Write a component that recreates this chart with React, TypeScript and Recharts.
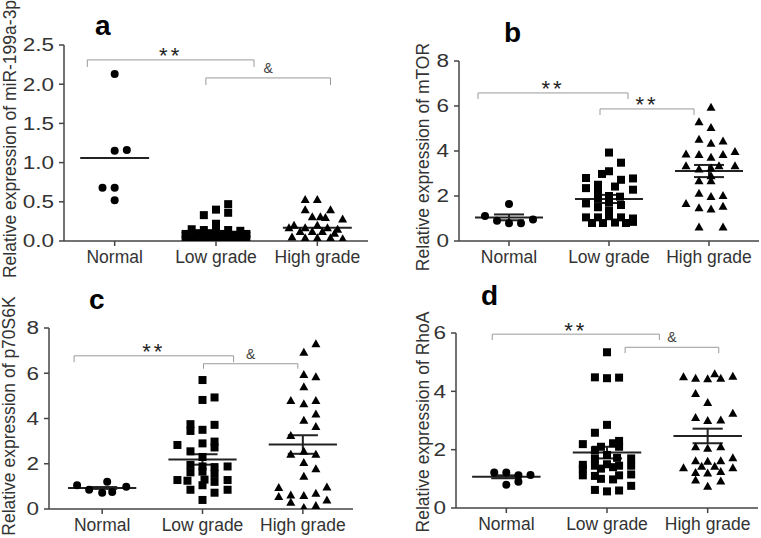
import React from "react";
import { ScatterChart, Scatter, XAxis, YAxis, ReferenceLine } from "recharts";

const GROUPS = ["Normal", "Low grade", "High grade"];
const FONT = "'Liberation Sans', Arial, sans-serif";

// each point: [x jitter around its group, value]
// a: miR-199a-3p
const aNormal = [[0, 2.13], [0, 1.15], [0.12, 1.16], [-0.12, 0.68], [0, 0.68], [0, 0.52]];
const aLow = [
  [0.12, 0.47], [0, 0.4], [0.12, 0.36], [-0.12, 0.33], [0, 0.22],
  [-0.24, 0.15], [-0.12, 0.14], [0, 0.16], [0.12, 0.14], [0.24, 0.13],
  [-0.3, 0.09], [-0.18, 0.1], [-0.06, 0.1], [0.06, 0.09], [0.18, 0.08], [0.3, 0.09],
  [-0.24, 0.05], [-0.12, 0.05], [0, 0.06], [0.12, 0.04], [0.24, 0.05],
  [-0.3, 0.02], [-0.18, 0.02], [-0.06, 0.02], [0.06, 0.02], [0.18, 0.02], [0.3, 0.03],
  [-0.12, 0.0], [0, 0.0], [0.12, 0.01],
];
const aHigh = [
  [-0.12, 0.53], [0, 0.53], [-0.12, 0.4], [0.13, 0.4], [-0.05, 0.31], [0.03, 0.31],
  [0.08, 0.3], [0.25, 0.28], [-0.23, 0.2], [0, 0.2], [-0.28, 0.17], [-0.12, 0.17],
  [0.1, 0.17], [0.2, 0.15], [-0.17, 0.12], [-0.05, 0.12], [0.05, 0.12], [0.17, 0.1],
  [-0.25, 0.05], [-0.12, 0.04], [0, 0.04], [0.13, 0.04], [0.25, 0.03], [0, 0.0],
];
const aMean = [1.06, 0.11, 0.17];
const aSem = [0, 0, 0];
const aTicks = [0, 0.5, 1, 1.5, 2, 2.5];
const aBrackets = [
  { x1: 0.73, x2: 2.375, y: 2.31, drop: 0.09, label: "**" },
  { x1: 1.9, x2: 3.13, y: 2.08, drop: 0.09, label: "&" },
];

// b: mTOR
const bNormal = [[0, 1.64], [-0.24, 1.11], [-0.12, 0.9], [0, 0.79], [0.12, 0.79], [0.24, 0.96]];
const bLow = [
  [0, 3.93], [0.12, 3.48], [0, 3.1], [-0.07, 2.98], [-0.23, 2.8], [0.12, 2.72],
  [0.24, 2.78], [-0.11, 2.5], [0.06, 2.42], [-0.23, 2.35], [0.24, 2.28], [-0.11, 2.25],
  [0, 2.0], [0.11, 1.97], [-0.11, 1.9], [-0.23, 1.67], [0, 1.72], [0.12, 1.6],
  [-0.11, 1.5], [0, 1.36], [-0.23, 1.05], [-0.11, 1.05], [0, 1.1], [0.12, 1.05],
  [0.24, 1.0], [-0.17, 0.8], [-0.06, 0.8], [0.06, 0.82], [0.17, 0.8], [0.24, 0.85],
];
const bHigh = [
  [0.02, 5.95], [-0.1, 5.3], [0.02, 5.05], [-0.1, 4.52], [0.02, 4.34], [0.14, 4.44],
  [-0.23, 3.87], [-0.1, 3.85], [0.02, 3.72], [0.14, 3.85], [0.26, 3.98],
  [-0.23, 3.35], [-0.1, 3.2], [0.02, 3.25], [0.1, 3.35], [0.26, 3.35],
  [-0.1, 2.68], [0.02, 2.9], [0.02, 2.68],
  [-0.1, 2.12], [0.02, 1.98], [0.14, 2.02],
  [-0.23, 1.67], [-0.1, 1.48], [0.02, 1.42], [0.14, 1.55],
  [-0.1, 0.62], [0.14, 0.62],
];
const bMean = [1.05, 1.87, 3.11];
const bSem = [0.13, 0.18, 0.27];
const bTicks = [0, 2, 4, 6, 8];
const bBrackets = [
  { x1: 0.69, x2: 2.19, y: 6.58, drop: 0.27, label: "**" },
  { x1: 1.91, x2: 2.85, y: 5.87, drop: 0.27, label: "**" },
];

// c: p70S6K
const cNormal = [[-0.25, 1.05], [-0.13, 0.85], [0, 0.72], [0.05, 1.2], [0.1, 0.75], [0.24, 0.98]];
const cLow = [
  [0, 5.7], [0, 4.82], [0.12, 4.93], [-0.12, 3.75], [-0.12, 3.45], [0, 3.5], [0.12, 3.72],
  [-0.25, 2.83], [0, 2.9], [0.12, 2.98], [0.12, 2.72], [-0.12, 2.55], [0, 2.3],
  [-0.12, 1.95], [0, 1.88], [0.12, 1.85], [0.25, 1.88],
  [-0.12, 1.62], [0, 1.65], [0.12, 1.55],
  [-0.25, 1.28], [-0.15, 1.25], [0.02, 1.3], [0.12, 1.2], [0.25, 1.28],
  [-0.12, 0.85], [0, 1.05], [0.12, 0.72], [0.25, 0.85], [0, 0.4],
];
const cHigh = [
  [0.13, 7.3], [0.01, 6.93], [0.01, 5.95], [0.13, 5.85], [0.01, 5.4], [-0.12, 4.8],
  [0.01, 4.65], [0.13, 4.8], [0.13, 4.2], [0.01, 3.92], [0.13, 3.65], [-0.12, 3.25],
  [0.01, 2.55], [-0.12, 2.42], [0.13, 2.42], [0.01, 2.05], [0.13, 1.78], [0.01, 1.45],
  [-0.24, 0.95], [0.24, 0.97], [-0.24, 0.55], [-0.12, 0.62], [0.01, 0.6], [0.13, 0.7],
  [0.24, 0.4], [-0.12, 0.3], [0.13, 0.15], [0.01, 0.07],
];
const cMean = [0.93, 2.19, 2.85];
const cSem = [0.04, 0.23, 0.41];
const cTicks = [0, 2, 4, 6, 8];
const cBrackets = [
  { x1: 0.72, x2: 2.31, y: 6.77, drop: 0.28, label: "**" },
  { x1: 2.01, x2: 2.95, y: 6.42, drop: 0.22, label: "&" },
];

// d: RhoA
const dNormal = [[-0.12, 1.22], [0, 1.22], [0.12, 1.12], [0.24, 1.13], [0, 0.8], [0.12, 0.9]];
const dLow = [
  [0, 5.34], [-0.12, 4.48], [0, 4.45], [0.12, 4.47], [0, 2.85], [-0.12, 2.58],
  [-0.24, 2.19], [-0.06, 2.1], [0.06, 2.22], [0.12, 2.3], [0.12, 2.1],
  [-0.12, 1.98], [0, 1.82], [-0.12, 1.7], [0.1, 1.72], [0.24, 1.7],
  [-0.24, 1.48], [-0.12, 1.45], [0, 1.5], [0.12, 1.45], [0.24, 1.45],
  [-0.24, 1.35], [-0.06, 1.35], [0.06, 1.4],
  [-0.24, 1.12], [-0.12, 1.1], [0.12, 1.12], [0.24, 1.15],
  [-0.06, 1.0], [0.06, 0.98], [0.24, 0.76],
  [-0.12, 0.62], [0, 0.57], [0.12, 0.6],
];
const dHigh = [
  [-0.24, 4.5], [-0.12, 4.45], [0, 4.43], [0.07, 4.6], [0.13, 4.45], [0.25, 4.52],
  [-0.12, 3.93], [0, 3.62],
  [-0.12, 3.1], [0, 3.0], [0.13, 3.02], [0.25, 3.25],
  [-0.12, 2.1], [0, 2.05], [0.13, 2.1],
  [-0.12, 1.62], [0, 1.6], [0.13, 1.62], [0.25, 1.72],
  [-0.24, 1.38], [-0.06, 1.43], [0.07, 1.43], [0.25, 1.38],
  [-0.12, 1.22], [0, 1.2], [0.13, 1.25],
  [-0.12, 0.96], [0.13, 0.93], [0, 0.75],
];
const dMean = [1.07, 1.9, 2.47];
const dSem = [0.05, 0.2, 0.25];
const dTicks = [0, 2, 4, 6];
const dBrackets = [
  { x1: 0.86, x2: 2.52, y: 5.96, drop: 0.2, label: "**" },
  { x1: 2.18, x2: 3.11, y: 5.51, drop: 0.2, label: "&" },
];

const Dot = (p: any) => <circle cx={p.cx} cy={p.cy} r={4} fill="#000" />;
const Sq = (p: any) => <rect x={p.cx - 4} y={p.cy - 4} width={8} height={8} fill="#000" />;
const Tri = (p: any) => (
  <polygon
    points={`${p.cx},${p.cy - 4.5} ${p.cx + 4.5},${p.cy + 3.5} ${p.cx - 4.5},${p.cy + 3.5}`}
    fill="#000"
  />
);
const SHAPES = [Dot, Sq, Tri];

const YTick = ({ x, y, payload, dec }: any) => (
  <text
    x={x}
    y={y}
    dy="0.36em"
    textAnchor="end"
    fontSize={18}
    fill="#333"
    fontFamily={FONT}
    transform={`translate(${x} 0) scale(1.25 1) translate(${-x} 0)`}
  >
    {Number(payload.value).toFixed(dec)}
  </text>
);

function Panel({ left, top, width, height, margin, yWidth, xHeight, xMin, yMax, ticks, dec, groups, means, sems, brackets }: any) {
  const data = groups.map((pts: number[][], gi: number) => pts.map(([dx, v]) => ({ x: gi + 1 + dx, y: v })));
  const line = { stroke: "#222", strokeWidth: 2, ifOverflow: "visible" as const };
  const brk = { stroke: "#999", strokeWidth: 1, ifOverflow: "visible" as const };
  return (
    <div style={{ position: "absolute", left, top }}>
      <ScatterChart width={width} height={height} margin={margin}>
        <XAxis
          type="number"
          dataKey="x"
          domain={[xMin, 3.5]}
          allowDataOverflow
          ticks={[1, 2, 3]}
          interval={0}
          tickFormatter={(v) => GROUPS[v - 1]}
          height={xHeight}
          stroke="#444"
          strokeWidth={1.5}
          tickSize={5}
          tickMargin={5}
          tick={{ fontSize: 17.5, fill: "#333", fontFamily: FONT }}
        />
        <YAxis
          type="number"
          dataKey="y"
          domain={[0, yMax]}
          allowDataOverflow
          ticks={ticks}
          interval={0}
          width={yWidth}
          stroke="#444"
          strokeWidth={1.5}
          tickSize={5}
          tickMargin={5}
          tick={(p: any) => <YTick {...p} dec={dec} />}
        />
        {data.map((d: any, i: number) => (
          <Scatter key={i} data={d} shape={SHAPES[i]} isAnimationActive={false} />
        ))}
        {means.map((m: number, i: number) => (
          <ReferenceLine key={`m${i}`} segment={[{ x: i + 0.66, y: m }, { x: i + 1.34, y: m }]} {...line} />
        ))}
        {sems.map((s: number, i: number) =>
          s > 0
            ? [
                <ReferenceLine key={`v${i}`} segment={[{ x: i + 1, y: means[i] - s }, { x: i + 1, y: means[i] + s }]} {...line} />,
                <ReferenceLine key={`t${i}`} segment={[{ x: i + 0.85, y: means[i] + s }, { x: i + 1.15, y: means[i] + s }]} {...line} />,
                <ReferenceLine key={`b${i}`} segment={[{ x: i + 0.85, y: means[i] - s }, { x: i + 1.15, y: means[i] - s }]} {...line} />,
              ]
            : null
        )}
        {brackets.map((b: any, i: number) => [
          <ReferenceLine
            key={`h${i}`}
            segment={[{ x: b.x1, y: b.y }, { x: b.x2, y: b.y }]}
            {...brk}
            label={{
              value: b.label,
              position: "top",
              offset: b.label === "&" ? 5 : -3.5,
              fontSize: b.label === "&" ? 14 : 22,
              letterSpacing: b.label === "&" ? 0 : 3,
              fill: b.label === "&" ? "#444" : "#222",
              fontFamily: FONT,
            }}
          />,
          <ReferenceLine key={`l${i}`} segment={[{ x: b.x1, y: b.y }, { x: b.x1, y: b.y - b.drop }]} {...brk} />,
          <ReferenceLine key={`r${i}`} segment={[{ x: b.x2, y: b.y }, { x: b.x2, y: b.y - b.drop }]} {...brk} />,
        ])}
      </ScatterChart>
    </div>
  );
}

export default function App() {
  const lbl = { fontSize: 17.5, fill: "#333", fontFamily: FONT, textAnchor: "middle" as const, dominantBaseline: "central" as const };
  const letter = { fontSize: 28, fontWeight: 700, fill: "#000", fontFamily: FONT };
  return (
    <div style={{ position: "absolute", left: 0, top: 0, width: 761, height: 538, background: "#fff", overflow: "hidden" }}>
      <Panel
        left={0} top={0} width={380} height={275}
        margin={{ top: 45, right: 12, bottom: 4, left: 4 }} yWidth={60} xHeight={30}
        xMin={0.5} yMax={2.5} ticks={aTicks} dec={1}
        groups={[aNormal, aLow, aHigh]} means={aMean} sems={aSem} brackets={aBrackets}
      />
      <Panel
        left={380} top={0} width={381} height={275}
        margin={{ top: 61, right: 2, bottom: 4, left: 19 }} yWidth={60} xHeight={30}
        xMin={0.5} yMax={8} ticks={bTicks} dec={0}
        groups={[bNormal, bLow, bHigh]} means={bMean} sems={bSem} brackets={bBrackets}
      />
      <Panel
        left={0} top={275} width={380} height={263}
        margin={{ top: 53, right: 27, bottom: 4, left: 0 }} yWidth={49} xHeight={25}
        xMin={0.47} yMax={8} ticks={cTicks} dec={0}
        groups={[cNormal, cLow, cHigh]} means={cMean} sems={cSem} brackets={cBrackets}
      />
      <Panel
        left={380} top={275} width={381} height={263}
        margin={{ top: 58, right: 3, bottom: 4, left: 16 }} yWidth={60} xHeight={26}
        xMin={0.5} yMax={6} ticks={dTicks} dec={0}
        groups={[dNormal, dLow, dHigh]} means={dMean} sems={dSem} brackets={dBrackets}
      />
      <svg width={761} height={538} style={{ position: "absolute", left: 0, top: 0, pointerEvents: "none" }}>
        <text x={95} y={35} {...letter}>a</text>
        <text x={504} y={42} {...letter}>b</text>
        <text x={89} y={309} {...letter}>c</text>
        <text x={481} y={305} {...letter}>d</text>
        <text transform="translate(10 139) rotate(-90)" {...lbl}>Relative expression of miR-199a-3p</text>
        <text transform="translate(423 157) rotate(-90)" {...lbl}>Relative expression of mTOR</text>
        <text transform="translate(9 416) rotate(-90)" {...lbl}>Relative expression of p70S6K</text>
        <text transform="translate(423 422) rotate(-90)" {...lbl}>Relative expression of RhoA</text>
      </svg>
    </div>
  );
}
